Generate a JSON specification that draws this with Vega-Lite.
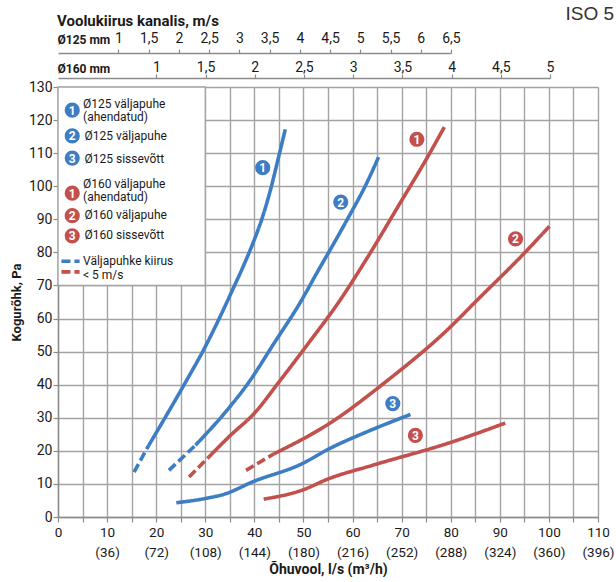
{
  "$schema": "https://vega.github.io/schema/vega-lite/v6.json",
  "padding": {"left": 10, "top": 5, "right": 0, "bottom": 0},
  "background": "white",
  "title": {"text": "ISO 5", "anchor": "end", "frame": "bounds", "font": "Liberation Sans", "fontSize": 19, "fontWeight": "normal", "color": "#333333", "dy": 14},
  "config": {
    "view": {"stroke": null},
    "font": "Roboto",
    "axis": {"labelFont": "Roboto", "titleFont": "Roboto", "labelColor": "#1a1a1a", "titleColor": "#1a1a1a", "domainColor": "#8c8c8c", "tickColor": "#8c8c8c", "gridColor": "#a3a3a3", "gridWidth": 1.4, "domainWidth": 1.4, "tickWidth": 1.2, "labelFlush": false, "labelOverlap": false}
  },
  "vconcat": [
    {
      "width": 393,
      "height": 25,
      "title": {"text": "Voolukiirus kanalis, m/s", "anchor": "start", "fontSize": 15, "fontWeight": "bold", "font": "Roboto", "color": "#1a1a1a", "offset": 2},
      "data": {"values": [{"v": 1}, {"v": 1.5}, {"v": 2}, {"v": 2.5}, {"v": 3}, {"v": 3.5}, {"v": 4}, {"v": 4.5}, {"v": 5}, {"v": 5.5}, {"v": 6}, {"v": 6.5}]},
      "mark": {"type": "point", "opacity": 0},
      "encoding": {
        "x": {"field": "v", "type": "quantitative", "scale": {"domain": [0, 6.5], "nice": false, "zero": false},
          "axis": {"orient": "top", "values": [1, 1.5, 2, 2.5, 3, 3.5, 4, 4.5, 5, 5.5, 6, 6.5], "labelExpr": "replace(format(datum.value, '~g'), '.', ',')", "labelFontSize": 14, "tickSize": 4, "labelPadding": 4, "grid": false,
            "title": "Ø125 mm", "titleX": -1, "titleY": -14, "titleAlign": "left", "titleAngle": 0, "titleBaseline": "middle", "titleFontSize": 12, "titleFontWeight": "bold"}}
      }
    },
    {
      "width": 492,
      "height": 9,
      "data": {"values": [{"v": 1}, {"v": 1.5}, {"v": 2}, {"v": 2.5}, {"v": 3}, {"v": 3.5}, {"v": 4}, {"v": 4.5}, {"v": 5}]},
      "mark": {"type": "point", "opacity": 0},
      "encoding": {
        "x": {"field": "v", "type": "quantitative", "scale": {"domain": [0, 5], "nice": false, "zero": false},
          "axis": {"orient": "top", "values": [1, 1.5, 2, 2.5, 3, 3.5, 4, 4.5, 5], "labelExpr": "replace(format(datum.value, '~g'), '.', ',')", "labelFontSize": 14, "tickSize": 4, "labelPadding": 0, "grid": false,
            "title": "Ø160 mm", "titleX": -1, "titleY": -10, "titleAlign": "left", "titleAngle": 0, "titleBaseline": "middle", "titleFontSize": 12, "titleFontWeight": "bold"}}
      }
    },
    {
      "width": 540,
      "height": 430,
      "encoding": {
        "x": {"field": "x", "type": "quantitative", "scale": {"domain": [0, 110], "nice": false, "zero": true},
          "axis": {"values": [0, 5, 10, 15, 20, 25, 30, 35, 40, 45, 50, 55, 60, 65, 70, 75, 80, 85, 90, 95, 100, 105, 110], "grid": true, "tickSize": 5, "labelPadding": 3, "labelFontSize": 13.5, "labelLineHeight": 20,
            "labelExpr": "datum.value % 10 != 0 ? '' : (datum.value == 0 ? '0' : [format(datum.value, 'd'), '(' + format(datum.value * 3.6, 'd') + ')'])",
            "title": "Õhuvool, l/s (m³/h)", "titleFontSize": 14, "titleFontWeight": "bold", "titlePadding": 4}},
        "y": {"field": "y", "type": "quantitative", "scale": {"domain": [0, 130], "nice": false},
          "axis": {"values": [0, 10, 20, 30, 40, 50, 60, 70, 80, 90, 100, 110, 120, 130], "grid": true, "tickSize": 5, "labelPadding": 1, "labelFontSize": 14,
            "title": "Kogurõhk, Pa", "titleFontSize": 13, "titleFontWeight": "bold", "titlePadding": 5}}
      },
      "layer": [
        {
          "data": {"values": [{"x": 0, "x2": 30, "y": 70, "y2": 130}]},
          "mark": {"type": "rect", "fill": "white", "stroke": "#a3a3a3", "strokeWidth": 1.4},
          "encoding": {
            "x2": {"field": "x2"},
            "y2": {"field": "y2"}
          }
        },
        {
          "data": {"values": [
            {"id": "b1d", "grp": "b", "style": "dash", "x": 15.5, "y": 13.6},
            {"id": "b1d", "grp": "b", "style": "dash", "x": 18.5, "y": 21.7},
            {"id": "b1s", "grp": "b", "style": "solid", "x": 18.5, "y": 21.7},
            {"id": "b1s", "grp": "b", "style": "solid", "x": 22, "y": 30.5},
            {"id": "b1s", "grp": "b", "style": "solid", "x": 26, "y": 40.8},
            {"id": "b1s", "grp": "b", "style": "solid", "x": 30, "y": 51.5},
            {"id": "b1s", "grp": "b", "style": "solid", "x": 33, "y": 60.5},
            {"id": "b1s", "grp": "b", "style": "solid", "x": 35.5, "y": 68.5},
            {"id": "b1s", "grp": "b", "style": "solid", "x": 37.5, "y": 75},
            {"id": "b1s", "grp": "b", "style": "solid", "x": 39.5, "y": 82},
            {"id": "b1s", "grp": "b", "style": "solid", "x": 41.5, "y": 90},
            {"id": "b1s", "grp": "b", "style": "solid", "x": 43.3, "y": 99},
            {"id": "b1s", "grp": "b", "style": "solid", "x": 44.8, "y": 108},
            {"id": "b1s", "grp": "b", "style": "solid", "x": 46.3, "y": 117.2},
            {"id": "b2d", "grp": "b", "style": "dash", "x": 22.6, "y": 14.1},
            {"id": "b2d", "grp": "b", "style": "dash", "x": 28, "y": 21.7},
            {"id": "b2s", "grp": "b", "style": "solid", "x": 28, "y": 21.7},
            {"id": "b2s", "grp": "b", "style": "solid", "x": 34.1, "y": 31.7},
            {"id": "b2s", "grp": "b", "style": "solid", "x": 38.9, "y": 40.8},
            {"id": "b2s", "grp": "b", "style": "solid", "x": 44, "y": 52.5},
            {"id": "b2s", "grp": "b", "style": "solid", "x": 49.4, "y": 65},
            {"id": "b2s", "grp": "b", "style": "solid", "x": 53, "y": 74.5},
            {"id": "b2s", "grp": "b", "style": "solid", "x": 56.3, "y": 83},
            {"id": "b2s", "grp": "b", "style": "solid", "x": 59.5, "y": 91.5},
            {"id": "b2s", "grp": "b", "style": "solid", "x": 62.6, "y": 100.1},
            {"id": "b2s", "grp": "b", "style": "solid", "x": 65.3, "y": 108.8},
            {"id": "b3s", "grp": "b", "style": "solid", "x": 24.1, "y": 4.3},
            {"id": "b3s", "grp": "b", "style": "solid", "x": 30, "y": 5.6},
            {"id": "b3s", "grp": "b", "style": "solid", "x": 34.1, "y": 7},
            {"id": "b3s", "grp": "b", "style": "solid", "x": 39.6, "y": 10.6},
            {"id": "b3s", "grp": "b", "style": "solid", "x": 49.7, "y": 16.1},
            {"id": "b3s", "grp": "b", "style": "solid", "x": 55.2, "y": 20.6},
            {"id": "b3s", "grp": "b", "style": "solid", "x": 63, "y": 25.8},
            {"id": "b3s", "grp": "b", "style": "solid", "x": 71.8, "y": 31},
            {"id": "r1d", "grp": "r", "style": "dash", "x": 26.7, "y": 12.1},
            {"id": "r1d", "grp": "r", "style": "dash", "x": 30.7, "y": 18.1},
            {"id": "r1s", "grp": "r", "style": "solid", "x": 30.7, "y": 18.1},
            {"id": "r1s", "grp": "r", "style": "solid", "x": 35, "y": 24.5},
            {"id": "r1s", "grp": "r", "style": "solid", "x": 40.2, "y": 31.7},
            {"id": "r1s", "grp": "r", "style": "solid", "x": 45, "y": 40.8},
            {"id": "r1s", "grp": "r", "style": "solid", "x": 51, "y": 52.5},
            {"id": "r1s", "grp": "r", "style": "solid", "x": 57.2, "y": 65},
            {"id": "r1s", "grp": "r", "style": "solid", "x": 63.3, "y": 79.1},
            {"id": "r1s", "grp": "r", "style": "solid", "x": 69.4, "y": 94.2},
            {"id": "r1s", "grp": "r", "style": "solid", "x": 75.5, "y": 109.4},
            {"id": "r1s", "grp": "r", "style": "solid", "x": 78.7, "y": 117.9},
            {"id": "r2d", "grp": "r", "style": "dash", "x": 38.3, "y": 14.1},
            {"id": "r2d", "grp": "r", "style": "dash", "x": 44, "y": 19.1},
            {"id": "r2s", "grp": "r", "style": "solid", "x": 44, "y": 19.1},
            {"id": "r2s", "grp": "r", "style": "solid", "x": 55.2, "y": 28.2},
            {"id": "r2s", "grp": "r", "style": "solid", "x": 66.7, "y": 40.8},
            {"id": "r2s", "grp": "r", "style": "solid", "x": 80.1, "y": 57.7},
            {"id": "r2s", "grp": "r", "style": "solid", "x": 85, "y": 65},
            {"id": "r2s", "grp": "r", "style": "solid", "x": 95.2, "y": 80.1},
            {"id": "r2s", "grp": "r", "style": "solid", "x": 100.1, "y": 87.9},
            {"id": "r3s", "grp": "r", "style": "solid", "x": 41.9, "y": 5.4},
            {"id": "r3s", "grp": "r", "style": "solid", "x": 49.7, "y": 8.1},
            {"id": "r3s", "grp": "r", "style": "solid", "x": 55.2, "y": 11.6},
            {"id": "r3s", "grp": "r", "style": "solid", "x": 64, "y": 15.6},
            {"id": "r3s", "grp": "r", "style": "solid", "x": 80.3, "y": 22.7},
            {"id": "r3s", "grp": "r", "style": "solid", "x": 91.1, "y": 28.4},
            {"id": "lgb", "grp": "b", "style": "dash", "x": 0.7, "y": 77.3},
            {"id": "lgb", "grp": "b", "style": "dash", "x": 4.4, "y": 77.3},
            {"id": "lgr", "grp": "r", "style": "dash", "x": 0.7, "y": 74.1},
            {"id": "lgr", "grp": "r", "style": "dash", "x": 4.4, "y": 74.1}
          ]},
          "mark": {"type": "line", "strokeWidth": 3.6, "strokeCap": "butt", "interpolate": "monotone"},
          "encoding": {
            "detail": {"field": "id"},
            "color": {"field": "grp", "type": "nominal", "scale": {"domain": ["b", "r"], "range": ["#3d7dc3", "#c2504c"]}, "legend": null},
            "strokeDash": {"field": "style", "type": "nominal", "scale": {"domain": ["solid", "dash"], "range": [[1, 0], [9, 4]]}, "legend": null}
          }
        },
        {
          "data": {"values": [
            {"n": "1", "grp": "b", "x": 41.7, "y": 105.6},
            {"n": "2", "grp": "b", "x": 57.6, "y": 95.2},
            {"n": "3", "grp": "b", "x": 68.2, "y": 34.3},
            {"n": "1", "grp": "r", "x": 73.1, "y": 114.2},
            {"n": "2", "grp": "r", "x": 93.2, "y": 84.1},
            {"n": "3", "grp": "r", "x": 72.8, "y": 24.7},
            {"n": "1", "grp": "b", "x": 2.9, "y": 123.0},
            {"n": "2", "grp": "b", "x": 2.9, "y": 115.2},
            {"n": "3", "grp": "b", "x": 2.9, "y": 108.5},
            {"n": "1", "grp": "r", "x": 2.9, "y": 97.9},
            {"n": "2", "grp": "r", "x": 2.9, "y": 91.1},
            {"n": "3", "grp": "r", "x": 2.9, "y": 85.0}
          ]},
          "layer": [
            {
              "mark": {"type": "point", "filled": true, "opacity": 1, "size": 230, "shape": "circle"},
              "encoding": {
                "color": {"field": "grp", "type": "nominal", "scale": {"domain": ["b", "r"], "range": ["#3d7dc3", "#c2504c"]}, "legend": null}
              }
            },
            {
              "mark": {"type": "text", "color": "white", "fontWeight": "bold", "fontSize": 12, "font": "Roboto", "baseline": "middle", "align": "center", "dy": 0.5},
              "encoding": {
                "text": {"field": "n"}
              }
            }
          ]
        },
        {
          "data": {"values": [
            {"t": "Ø125 väljapuhe", "x": 5.1, "y": 124.9},
            {"t": "(ahendatud)", "x": 5.1, "y": 120.8},
            {"t": "Ø125 väljapuhe", "x": 5.4, "y": 115.2},
            {"t": "Ø125 sissevõtt", "x": 5.4, "y": 108.3},
            {"t": "Ø160 väljapuhe", "x": 5.1, "y": 100.6},
            {"t": "(ahendatud)", "x": 5.1, "y": 96.6},
            {"t": "Ø160 väljapuhe", "x": 5.4, "y": 91.2},
            {"t": "Ø160 sissevõtt", "x": 5.4, "y": 85.2},
            {"t": "Väljapuhke kiirus", "x": 5.1, "y": 77.5},
            {"t": "< 5 m/s", "x": 5.1, "y": 73.3}
          ]},
          "mark": {"type": "text", "align": "left", "baseline": "middle", "fontSize": 12, "color": "#1a1a1a", "font": "Roboto"},
          "encoding": {
            "text": {"field": "t"}
          }
        }
      ]
    }
  ],
  "bounds": "flush",
  "spacing": 0
}
